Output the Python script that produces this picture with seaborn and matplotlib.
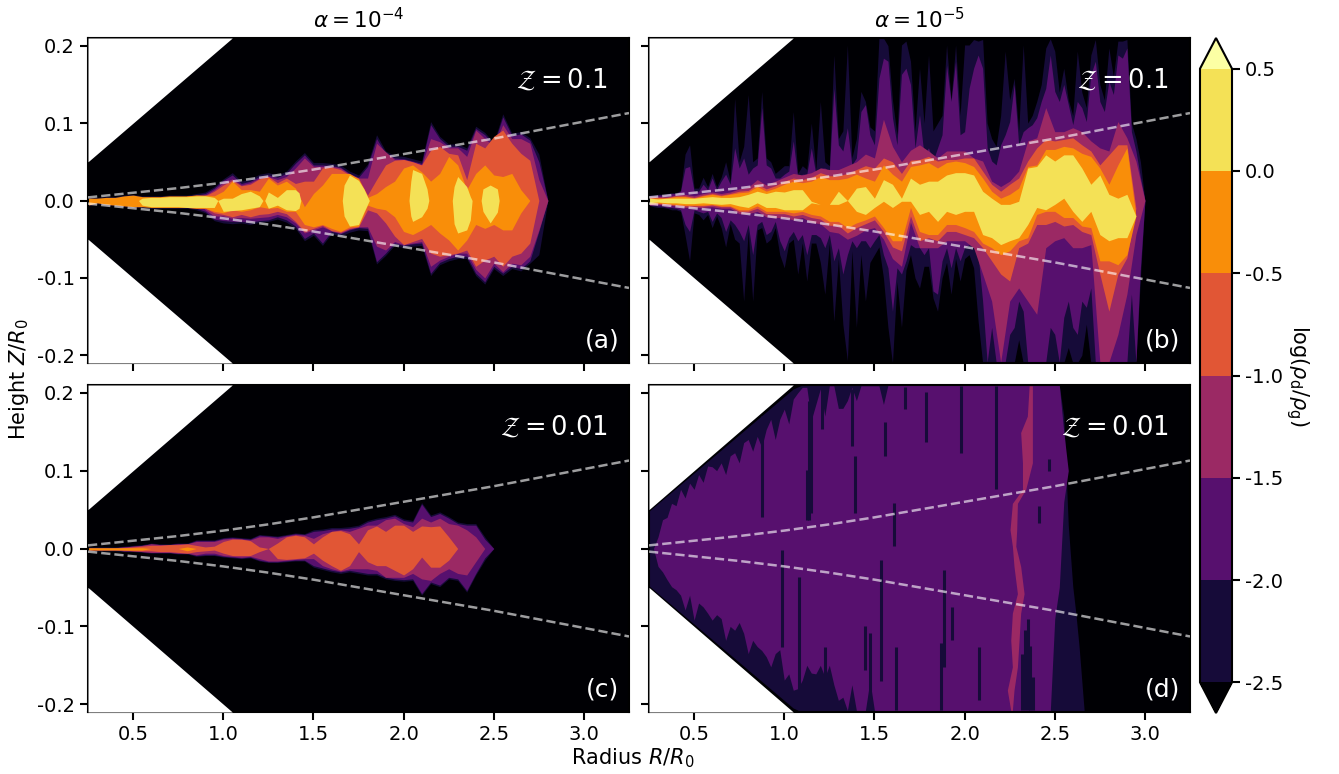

import matplotlib

matplotlib.use("Agg")

import matplotlib.pyplot as plt
import numpy as np
import seaborn as sns
from matplotlib.cm import ScalarMappable
from matplotlib.colors import BoundaryNorm, ListedColormap

# contour levels of log(rho_d / rho_g)
LEVELS = [-2.5, -2.0, -1.5, -1.0, -0.5, 0.0, 0.5]

# edges of the simulated wedge and the disc scale height, R/R0 and Z/R0
WEDGE_R = [0.25, 1.05]
WEDGE_Z = [0.05, 0.21]
SCALE_R = [0.25, 0.5, 0.75, 1.0, 1.25, 1.5, 1.75, 2.0, 2.25, 2.5, 2.75, 3.0, 3.25]
SCALE_H = [4, 10, 16, 23, 31, 40, 50, 60, 70, 80, 91, 102, 113]

# All heights below are in units of 1e-3 R0. Each band is the outline of the
# region above one contour level: "navy" > -2.5, "purple" > -2, "magenta" > -1.5,
# "red" > -1, "orange" > -0.5, "yellow" > 0.

# panel (a), one entry every 0.05 R0 from R = 0.25
A_R = 0.25 + 0.05 * np.arange(53)
A_NAVY_TOP = [4, 4, 5, 5, 7, 8, 6, 6, 6, 7, 7, 7, 9, 11, 18, 28, 36, 25, 28, 34, 36, 33, 38, 51, 62, 49, 49, 48, 46, 38, 33, 47, 85, 64, 58, 57, 54, 51, 102, 83, 73, 73, 68, 96, 88, 75, 112, 87, 89, 81, 60, 0, 0]
A_NAVY_BOT = [-7, -4, -6, -7, -8, -9, -9, -10, -10, -10, -10, -10, -12, -16, -26, -29, -30, -29, -31, -28, -27, -24, -28, -36, -52, -45, -58, -43, -46, -41, -38, -39, -82, -71, -58, -61, -59, -58, -97, -83, -78, -75, -75, -97, -108, -88, -97, -88, -91, -81, -70, 0, 0]
A_PURPLE_TOP = [0, 0, 0, 0, 0, 0, 0, 0, 0, 0, 0, 0, 7, 9, 16, 26, 33, 22, 25, 31, 33, 30, 35, 48, 59, 46, 46, 45, 43, 35, 30, 44, 80, 61, 55, 54, 51, 48, 98, 80, 70, 70, 65, 93, 85, 72, 108, 84, 86, 78, 50, 0, 0]
A_PURPLE_BOT = [0, 0, 0, 0, 0, 0, 0, 0, 0, 0, 0, 0, -10, -14, -24, -26, -27, -27, -28, -26, -25, -21, -25, -33, -49, -42, -55, -40, -43, -38, -35, -36, -79, -68, -55, -58, -56, -55, -94, -80, -75, -72, -72, -94, -105, -85, -94, -85, -88, -78, -40, 0, 0]
A_MAGENTA_TOP = [0, 0, 0, 0, 0, 0, 0, 0, 0, 0, 0, 0, 0, 7, 14, 23, 28, 20, 23, 29, 31, 27, 31, 42, 55, 44, 44, 44, 42, 34, 29, 29, 74, 63, 53, 53, 50, 46, 80, 76, 68, 68, 57, 91, 80, 70, 98, 80, 80, 74, 27, 0, 0]
A_MAGENTA_BOT = [0, 0, 0, 0, 0, 0, 0, 0, 0, 0, 0, 0, 0, -12, -20, -20, -23, -22, -23, -22, -21, -18, -21, -29, -42, -38, -34, -39, -42, -37, -34, -34, -59, -64, -53, -57, -55, -53, -85, -77, -72, -68, -68, -89, -100, -81, -92, -81, -83, -72, -38, 0, 0]
A_RED_TOP = [0, 0, 0, 0, 0, 0, 0, 0, 0, 0, 0, 6, 7, 6, 12, 20, 26, 19, 21, 28, 31, 23, 29, 22, 25, 25, 42, 43, 40, 33, 29, 7, 27, 46, 52, 53, 50, 46, 65, 70, 61, 59, 27, 74, 68, 83, 91, 74, 61, 52, 0, 0, 0]
A_RED_BOT = [0, 0, 0, 0, 0, 0, 0, 0, 0, 0, 0, -9, -10, -10, -16, -18, -21, -18, -21, -18, -17, -14, -17, -27, -40, -36, -32, -39, -41, -36, -34, -12, -16, -29, -46, -57, -53, -49, -68, -72, -70, -68, -64, -85, -77, -72, -85, -72, -68, -55, 0, 0, 0]
A_ORANGE_TOP = [3, 3, 4, 4, 6, 7, 5, 5, 5, 6, 6, 6, 7, 7, 6, 12, 25, 14, 14, 12, 29, 20, 25, 16, -8, 9, 20, 35, 35, 35, 28, 4, 9, 18, 25, 42, 46, 37, 25, 35, 57, 46, 14, 35, 46, 33, 31, 35, 14, 0, 0, 0, 0]
A_ORANGE_BOT = [-6, -3, -5, -6, -7, -8, -8, -9, -9, -9, -9, -9, -10, -10, -14, -16, -12, -14, -12, -8, -10, -9, -14, -14, -31, -34, -31, -36, -40, -34, -33, -6, -10, -12, -21, -40, -44, -38, -31, -42, -51, -64, -51, -31, -36, -31, -38, -38, -16, 0, 0, 0, 0]
A_YELLOW_R = [0.53, 0.55, 0.6, 0.65, 0.7, 0.75, 0.8, 0.85, 0.9, 0.95, 0.97,
              1.0, 1.05, 1.1, 1.15, 1.2, 1.22, 1.23, 1.25, 1.3, 1.35, 1.4, 1.42, 1.43,
              1.66, 1.67, 1.7, 1.75, 1.78, 1.8, 1.81,
              2.03, 2.04, 2.05, 2.1, 2.13, 2.14,
              2.27, 2.28, 2.3, 2.35, 2.37, 2.38,
              2.43, 2.44, 2.48, 2.52, 2.53]
A_YELLOW_TOP = [0, 3, 4, 4, 5, 5, 5, 6, 6, 4, 0,
                3, 3, 9, 12, 6, 0, 0, 11, 4, 14, 14, 10, 0,
                0, 20, 33, 26, 15, 5, 0,
                0, 25, 40, 35, 15, 0,
                0, 18, 31, 18, 5, 0,
                0, 15, 20, 15, 0]
A_YELLOW_BOT = [0, -6, -8, -8, -8, -8, -9, -9, -9, -9, 0,
                -14, -13, -12, -10, -8, 0, 0, -10, -6, -12, -13, -10, 0,
                0, -20, -33, -31, -15, -5, 0,
                0, -20, -27, -21, -10, 0,
                0, -30, -42, -38, -25, 0,
                0, -14, -29, -15, 0]

# panel (b), outer bands every 0.025 R0, inner bands every 0.05 R0
B_FINE_R = 0.25 + 0.025 * np.arange(111)
B_NAVY_TOP = [
    7, 7, 8, 8, 9, 10, 10, 13, 60, 72, 16, 16, 30, 18, 35, 18, 30, 50, 25, 132,
    50, 70, 137, 50, 55, 141, 55, 50, 35, 40, 45, 45, 115, 35, 45, 40, 100, 40, 128, 50,
    45, 188, 80, 90, 201, 55, 80, 141, 128, 95, 90, 210, 210, 200, 130, 85, 201, 206, 180, 90,
    171, 100, 188, 90, 100, 110, 201, 130, 201, 110, 201, 201, 208, 206, 208, 100, 80, 70, 110, 193,
    130, 158, 90, 201, 100, 110, 128, 150, 197, 209, 193, 140, 171, 130, 110, 193, 140, 120, 188, 208,
    150, 130, 197, 160, 206, 206, 208, 100, 80, 50, 0]
B_NAVY_BOT = [
    -6, -8, -9, -9, -10, -12, -12, -14, -45, -78, -16, -18, -25, -18, -35, -20, -35, -60, -30, -50,
    -55, -130, -40, -130, -38, -35, -55, -50, -35, -70, -87, -55, -50, -95, -55, -104, -55, -55, -80, -121,
    -55, -156, -75, -160, -207, -65, -164, -70, -130, -80, -70, -60, -100, -164, -210, -105, -164, -90, -70, -100,
    -113, -85, -85, -126, -143, -100, -80, -121, -75, -104, -75, -70, -87, -156, -210, -210, -210, -210, -210, -210,
    -210, -210, -180, -210, -210, -210, -210, -210, -210, -210, -210, -210, -210, -190, -210, -210, -200, -160, -210, -210,
    -210, -210, -210, -210, -210, -210, -210, -210, -210, -100, 0]
B_PURPLE_TOP = [
    6, 6, 7, 7, 8, 9, 9, 12, 42, 44, 12, 12, 21, 14, 29, 14, 25, 34, 21, 68,
    42, 55, 34, 42, 46, 120, 46, 42, 29, 29, 34, 38, 77, 29, 34, 34, 68, 34, 42, 42,
    38, 145, 72, 64, 94, 46, 55, 115, 124, 85, 72, 158, 184, 180, 107, 72, 163, 171, 150, 68,
    111, 59, 68, 51, 68, 85, 175, 128, 180, 85, 89, 145, 171, 188, 171, 68, 51, 46, 72, 85,
    102, 150, 72, 89, 94, 98, 107, 128, 145, 188, 141, 128, 150, 124, 98, 128, 120, 102, 163, 180,
    128, 115, 154, 137, 188, 184, 197, 89, 64, 30, 0]
B_PURPLE_BOT = [
    -6, -6, -7, -7, -9, -9, -10, -12, -31, -40, -12, -14, -16, -14, -27, -16, -22, -40, -25, -31,
    -40, -52, -31, -70, -31, -27, -44, -40, -27, -52, -65, -48, -40, -52, -44, -70, -44, -44, -48, -61,
    -44, -78, -61, -95, -70, -52, -61, -52, -52, -61, -52, -44, -70, -87, -143, -87, -95, -78, -57, -61,
    -61, -70, -61, -117, -121, -78, -61, -87, -61, -78, -61, -57, -61, -70, -130, -209, -164, -209, -209, -209,
    -173, -164, -130, -143, -209, -209, -209, -209, -209, -164, -173, -209, -151, -130, -164, -173, -130, -138, -113, -209,
    -209, -209, -209, -209, -209, -209, -209, -121, -209, -87, 0]
B_R = 0.25 + 0.05 * np.arange(56)
B_MAGENTA_TOP = [5, 5, 5, 7, 8, 6, 9, 11, 9, 11, 15, 17, 27, 20, 25, 30, 35, 33, 36, 42, 40, 40, 45, 50, 60, 55, 105, 70, 50, 65, 72, 64, 55, 64, 64, 64, 55, 51, 25, 18, 25, 38, 77, 81, 120, 89, 89, 94, 89, 77, 68, 64, 102, 81, 51, 0]
B_MAGENTA_BOT = [-6, -5, -6, -7, -9, -9, -9, -8, -10, -10, -17, -17, -14, -21, -22, -22, -25, -22, -28, -30, -40, -42, -50, -45, -38, -35, -50, -75, -85, -28, -61, -61, -61, -52, -52, -52, -61, -95, -130, -209, -130, -113, -130, -147, -61, -52, -48, -61, -61, -57, -209, -209, -173, -121, -44, 0]
B_RED_TOP = [4, 4, 4, 6, 6, 4, 7, 9, 7, 9, 12, 13, 21, 15, 19, 25, 29, 27, 30, 36, 32, 32, 35, 40, 45, 42, 55, 50, 35, 52, 53, 57, 51, 53, 53, 55, 55, 38, 21, 12, 21, 29, 51, 68, 79, 77, 79, 81, 72, 64, 46, 59, 72, 72, -10, 0]
B_RED_BOT = [-5, -4, -5, -6, -7, -7, -7, -6, -8, -8, -14, -14, -10, -17, -17, -17, -20, -18, -22, -24, -32, -32, -42, -35, -30, -25, -40, -60, -65, -20, -52, -48, -52, -40, -40, -44, -48, -61, -78, -95, -104, -61, -55, -31, -31, -27, -33, -31, -40, -44, -95, -143, -95, -74, -10, 0]
B_ORANGE_TOP = [3, 3, 3, 5, 5, 3, 6, 8, 6, 8, 10, 11, 18, 12, 16, 21, 25, 23, 25, 31, 27, 27, 29, 34, 29, 25, 46, 34, 25, 44, 46, 49, 42, 49, 51, 49, 44, 29, 12, 3, 8, 16, 44, 46, 66, 66, 70, 68, 61, 57, 42, 21, 46, 68, -20, 0]
B_ORANGE_BOT = [-4, -3, -4, -5, -6, -6, -6, -5, -7, -7, -12, -12, -7, -14, -14, -14, -16, -14, -18, -20, -27, -27, -35, -29, -25, -20, -35, -52, -52, -9, -40, -44, -44, -31, -31, -35, -40, -55, -61, -70, -65, -52, -48, -18, -14, -14, -22, -22, -33, -35, -78, -78, -83, -70, -20, 0]
B_YELLOW_TOP = [3, 2, 3, 3, 3, 3, 4, 5, 4, 4, 5, 8, 12, 9, 12, 11, 14, 14, -1, -5, -5, 12, 0, 16, 18, 3, 27, 21, 3, 29, 21, 25, 25, 33, 36, 36, 33, 12, 3, -5, -5, -1, 42, 44, 59, 51, 59, 59, 42, 21, 33, 8, 3, 8, -20, 0]
B_YELLOW_BOT = [-3, -2, -3, -3, -4, -4, -3, -4, -5, -4, -7, -9, -3, -9, -9, -12, -12, -12, -3, -5, -5, -5, 0, -14, -18, -9, -1, -9, -1, -1, -18, -14, -27, -14, -18, -14, -14, -44, -48, -57, -52, -48, -31, -9, -12, -5, 3, -14, -27, -14, -44, -52, -48, -48, -20, 0]

# panel (c), one entry every 0.05 R0 from R = 0.25
C_R = 0.25 + 0.05 * np.arange(47)
C_NAVY_TOP = [2, 2, 2, 2, 3, 4, 5, 7, 6, 6, 7, 7, 11, 11, 11, 14, 15, 14, 13, 18, 17, 16, 18, 20, 19, 24, 25, 27, 27, 28, 30, 36, 39, 41, 44, 38, 36, 59, 43, 47, 41, 34, 32, 32, 15, 0, 0]
C_NAVY_BOT = [-3, -3, -3, -3, -4, -4, -5, -6, -6, -6, -7, -7, -10, -9, -9, -11, -12, -13, -12, -16, -18, -18, -17, -16, -16, -24, -27, -30, -32, -30, -32, -34, -34, -39, -41, -42, -41, -60, -45, -49, -39, -41, -56, -34, -15, 0, 0]
C_PURPLE_TOP = [1, 1, 1, 1, 2, 3, 4, 6, 5, 5, 6, 6, 10, 10, 10, 13, 14, 13, 12, 17, 16, 15, 17, 19, 18, 22, 23, 25, 25, 26, 28, 34, 37, 39, 42, 36, 34, 57, 41, 45, 39, 32, 30, 30, 12, 0, 0]
C_PURPLE_BOT = [-2, -2, -2, -2, -3, -3, -4, -5, -5, -5, -6, -6, -9, -8, -8, -10, -11, -12, -11, -15, -17, -17, -16, -15, -15, -22, -25, -28, -30, -28, -30, -32, -32, -37, -39, -40, -39, -58, -43, -47, -37, -39, -54, -32, -12, 0, 0]
C_MAGENTA_TOP = [1, 1, 1, 1, 2, 3, 4, 6, 5, 5, 6, 6, 9, 9, 9, 12, 13, 12, 11, 15, 15, 13, 16, 18, 17, 13, 19, 22, 24, 22, 26, 30, 30, 37, 39, 32, 28, 39, 34, 39, 32, 30, 24, 15, 0, 0, 0]
C_MAGENTA_BOT = [-2, -2, -2, -2, -3, -3, -4, -5, -5, -5, -6, -6, -8, -6, -6, -9, -10, -11, -10, -13, -16, -16, -15, -14, -13, -13, -22, -26, -29, -26, -26, -26, -28, -37, -37, -37, -32, -39, -41, -32, -26, -32, -34, -17, 0, 0, 0]
C_RED_TOP = [0, 0, 0, 0, 1, 2, 3, 4, 4, 5, 5, 6, 4, 2, 3, 9, 12, 12, 10, 2, 0, 7, 15, 17, 15, 6, 15, 22, 23, 19, 6, 24, 29, 22, 30, 30, 22, 29, 28, 29, 15, 0, 0, 0, 0, 0, 0]
C_RED_BOT = [0, 0, 0, 0, -2, -3, -3, -3, -4, -4, -5, -6, -4, -3, -2, -6, -9, -9, -9, -4, 0, -13, -14, -13, -12, -6, -15, -22, -28, -22, -4, -17, -22, -22, -28, -34, -26, -11, -24, -24, -15, 0, 0, 0, 0, 0, 0]
C_ORANGE_TOP = [1, 1, 1, 1, 1, 1, 1, 0, 0, 0, 0, 2, 0]
C_ORANGE_BOT = [-2, -2, -2, -2, -2, -2, -2, 0, 0, 0, 0, -3, 0]

# panel (d), outline of the > -2 region every 0.025 R0, closed by the last knots
D_R = np.concatenate([0.25 + 0.025 * np.arange(62), [2.475, 2.5, 2.525, 2.55, 2.575]])
D_PURPLE_TOP = [
    0, 0, 15, 37, 40, 58, 55, 76, 65, 84, 76, 95, 85, 106, 105, 100, 110, 95, 119, 123,
    110, 136, 140, 125, 144, 130, 153, 166, 140, 166, 179, 160, 192, 200, 207, 207, 165, 185, 205, 170,
    209, 209, 180, 180, 190, 207, 190, 209, 209, 209, 209, 209, 185, 210, 210, 210, 210, 210, 210, 210,
    210, 210, 210, 210, 210, 150, 100]
D_PURPLE_BOT = [
    0, 0, -23, -30, -40, -49, -53, -60, -79, -60, -92, -70, -75, -83, -92, -85, -90, -118, -100, -105,
    -95, -109, -135, -118, -126, -131, -139, -152, -135, -130, -169, -161, -182, -180, -169, -150, -160, -161, -150, -165,
    -150, -175, -195, -191, -208, -175, -208, -208, -208, -170, -208, -208, -210, -210, -210, -210, -210, -210, -210, -210,
    -210, -210, -210, -90, -50, 60, 100]
D_NAVY_R = [0.25, 1.05, 1.1, 2.525, 2.55, 2.575, 2.6, 2.617, 2.635, 2.663]
D_NAVY_TOP = [48, 205, 210, 210, 170, 30, -49, -83, -126, -208]
D_NAVY_BOT = [-48, -205, -210, -210, -210, -210, -210, -210, -210, -210]

# isolated dark streaks and the one pale filament of panel (d)
STREAK_R = [1.534, 1.08, 0.987, 1.126, 1.228, 1.395, 1.376, 1.561, 1.672, 1.608, 1.45, 1.617, 1.478, 1.209, 1.135, 1.978, 1.784, 2.172, 1.885, 1.932, 1.867, 2.413, 2.469, 2.08, 2.32, 2.335, 2.35, 2.365, 2.38, 0.875, 1.15]
STREAK_HI = [-15, -36, -2, 101, -126, 119, 205, 162, 207, 58, -100, -126, -108, 209, 190, 209, 201, 209, -27, -75, -121, 54, 115, -126, -135, -105, -90, -125, -165, 170, 209]
STREAK_LO = [-170, -208, -126, 37, -208, 46, 132, 119, 179, 3, -156, -208, -208, 153, 37, 123, 137, 77, -152, -118, -208, 33, 100, -195, -208, -208, -208, -208, -208, 40, 46]
FILAMENT_Z = [209, 170, 149, 110, 76, 58, 24, 3, -23, -58, -83, -118, -152, -182, -208]
FILAMENT_LEFT = [2.358, 2.348, 2.311, 2.321, 2.321, 2.265, 2.252, 2.265, 2.274, 2.293, 2.265, 2.256, 2.265, 2.237, 2.256]
FILAMENT_RIGHT = [2.376, 2.376, 2.376, 2.376, 2.339, 2.293, 2.289, 2.284, 2.311, 2.33, 2.311, 2.302, 2.293, 2.274, 2.265]

TITLES = [r"$\alpha = 10^{-4}$", r"$\alpha = 10^{-5}$"]
METALLICITY = [r"$\mathcal{Z} = 0.1$", r"$\mathcal{Z} = 0.1$", r"$\mathcal{Z} = 0.01$", r"$\mathcal{Z} = 0.01$"]
PANEL_TAGS = ["(a)", "(b)", "(c)", "(d)"]
X_TICKS = [0.5, 1.0, 1.5, 2.0, 2.5, 3.0]
Y_TICKS = [-0.2, -0.1, 0.0, 0.1, 0.2]


def draw_band(axis, radius, top, bottom, colour):
    count = min(len(radius), len(top), len(bottom))
    axis.fill_between(
        np.asarray(radius)[:count],
        np.asarray(bottom[:count]) / 1000,
        np.asarray(top[:count]) / 1000,
        color=colour,
        linewidth=0,
        zorder=2,
    )


def dress_panel(axis, index):
    radius = np.array(WEDGE_R)
    height = np.array(WEDGE_Z)
    axis.fill_between(radius, height, height[-1], color="white", linewidth=0, zorder=3)
    axis.fill_between(radius, -height[-1], -height, color="white", linewidth=0, zorder=3)
    scale = np.array(SCALE_H) / 1000
    for sign in (1, -1):
        sns.lineplot(
            x=SCALE_R, y=sign * scale, ax=axis, color="white", alpha=0.62,
            linestyle="--", linewidth=1.8, errorbar=None, zorder=4,
        )
    axis.set_xlim(0.25, 3.25)
    axis.set_ylim(-0.21, 0.21)
    axis.set_xticks(X_TICKS)
    axis.set_yticks(Y_TICKS)
    axis.tick_params(labelbottom=index >= 2, labelleft=index % 2 == 0)
    axis.text(0.961, 0.87, METALLICITY[index], transform=axis.transAxes, color="white",
              fontsize=18.5, ha="right", va="center", zorder=5)
    axis.text(0.982, 0.07, PANEL_TAGS[index], transform=axis.transAxes, color="white",
              fontsize=18, ha="right", va="center", zorder=5)


sns.set_style("ticks", rc={"axes.edgecolor": "black", "xtick.color": "black", "ytick.color": "black",
                           "text.color": "black", "axes.labelcolor": "black"})
plt.rcParams["font.family"] = ["DejaVu Sans"]
plt.rcParams["axes.unicode_minus"] = False
plt.rcParams["axes.linewidth"] = 1.5
plt.rcParams["xtick.major.width"] = 1.5
plt.rcParams["ytick.major.width"] = 1.5
plt.rcParams["xtick.major.size"] = 6
plt.rcParams["ytick.major.size"] = 6
plt.rcParams["xtick.labelsize"] = 14
plt.rcParams["ytick.labelsize"] = 14

inferno = sns.color_palette("inferno", as_cmap=True)
navy, purple, magenta, red, orange, yellow = [inferno(v) for v in (0.1, 0.25, 0.42, 0.615, 0.75, 0.92)]
under_colour, over_colour = inferno(0.0), inferno(1.0)

figure = plt.figure(figsize=(13.39, 7.74), dpi=100)
W, H = 1339, 774
boxes = [(88, 38, 541, 325), (649, 38, 541, 325), (88, 385, 541, 327), (649, 385, 541, 327)]
axes = [figure.add_axes([x / W, 1 - (y + h) / H, w / W, h / H]) for x, y, w, h in boxes]
for axis in axes:
    axis.set_facecolor(under_colour)

panel_a = [(A_NAVY_TOP, A_NAVY_BOT, navy), (A_PURPLE_TOP, A_PURPLE_BOT, purple), (A_MAGENTA_TOP, A_MAGENTA_BOT, magenta),
           (A_RED_TOP, A_RED_BOT, red), (A_ORANGE_TOP, A_ORANGE_BOT, orange)]
for top, bottom, colour in panel_a:
    draw_band(axes[0], A_R, top, bottom, colour)
draw_band(axes[0], A_YELLOW_R, A_YELLOW_TOP, A_YELLOW_BOT, yellow)

draw_band(axes[1], B_FINE_R, B_NAVY_TOP, B_NAVY_BOT, navy)
draw_band(axes[1], B_FINE_R, B_PURPLE_TOP, B_PURPLE_BOT, purple)
panel_b = [(B_MAGENTA_TOP, B_MAGENTA_BOT, magenta), (B_RED_TOP, B_RED_BOT, red),
           (B_ORANGE_TOP, B_ORANGE_BOT, orange), (B_YELLOW_TOP, B_YELLOW_BOT, yellow)]
for top, bottom, colour in panel_b:
    draw_band(axes[1], B_R, top, bottom, colour)

panel_c = [(C_NAVY_TOP, C_NAVY_BOT, navy), (C_PURPLE_TOP, C_PURPLE_BOT, purple), (C_MAGENTA_TOP, C_MAGENTA_BOT, magenta),
           (C_RED_TOP, C_RED_BOT, red), (C_ORANGE_TOP, C_ORANGE_BOT, orange)]
for top, bottom, colour in panel_c:
    draw_band(axes[2], C_R, top, bottom, colour)

draw_band(axes[3], D_NAVY_R, D_NAVY_TOP, D_NAVY_BOT, navy)
draw_band(axes[3], D_R, D_PURPLE_TOP, D_PURPLE_BOT, purple)
axes[3].vlines(STREAK_R, np.array(STREAK_LO) / 1000, np.array(STREAK_HI) / 1000, color=navy, linewidth=2.2, zorder=2)
axes[3].fill_betweenx(np.array(FILAMENT_Z) / 1000, FILAMENT_LEFT, FILAMENT_RIGHT, color=magenta, linewidth=0, zorder=2)

for index, axis in enumerate(axes):
    dress_panel(axis, index)
for axis, title in zip(axes[:2], TITLES):
    axis.set_title(title, fontsize=15.5, pad=7)

figure.text(633 / W, 1 - 758 / H, r"Radius $R/R_0$", fontsize=15, ha="center", va="center")
figure.text(19 / W, 1 - 379 / H, r"Height $Z/R_0$", fontsize=15, ha="center", va="center", rotation=90)

colour_axis = figure.add_axes([1200 / W, 1 - 713 / H, 32 / W, 675 / H])
level_map = ListedColormap([navy, purple, magenta, red, orange, yellow]).with_extremes(under=under_colour, over=over_colour)
colorbar = figure.colorbar(
    ScalarMappable(norm=BoundaryNorm(LEVELS, 6), cmap=level_map),
    cax=colour_axis, extend="both", ticks=LEVELS, format="%.1f",
)
colorbar.outline.set_linewidth(1.5)
colorbar.ax.tick_params(length=6, width=1.5, labelsize=14)
colorbar.set_label(r"log$(\rho_{\rm d}/\rho_{\rm g})$", rotation=270, fontsize=15, labelpad=20)

figure.savefig("out.png", dpi=100)
plt.close(figure)
